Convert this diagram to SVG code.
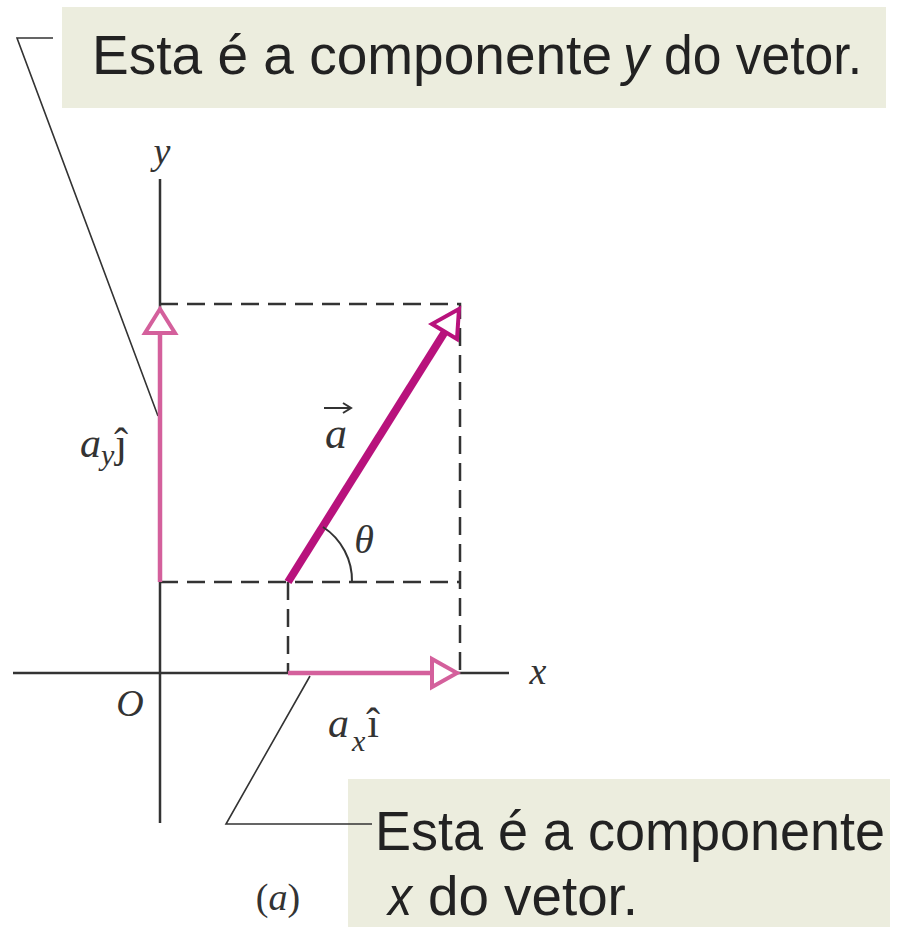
<svg xmlns="http://www.w3.org/2000/svg" width="905" height="927" viewBox="0 0 905 927">
<style>
.box{fill:#ecedde;}
.cap{font-family:"Liberation Sans",Arial,sans-serif;font-size:56px;fill:#222;}
.it{font-style:italic;}
.lbl{font-family:"Liberation Serif","Times New Roman",serif;fill:#333;}
.axis{stroke:#333;stroke-width:2.5;fill:none;}
.dash{stroke:#333;stroke-width:2.5;fill:none;stroke-dasharray:18 9;}
.lead{stroke:#333;stroke-width:1.6;fill:none;}
.comp{stroke:#d4609c;stroke-width:4.5;fill:none;}
.head{stroke:#d4609c;stroke-width:4;fill:#fff;stroke-linejoin:miter;}
.vec{stroke:#b8127c;stroke-width:8;fill:none;}
.vhead{stroke:#b8127c;stroke-width:4;fill:#fff;}
</style>
<rect width="905" height="927" fill="#fff"/>
<g id="note-y">
<rect class="box" x="62" y="7" width="824" height="101"/>
<text class="cap" x="92" y="74" textLength="520" lengthAdjust="spacingAndGlyphs">Esta é a componente</text>
<text class="cap it" x="623" y="74" textLength="26" lengthAdjust="spacingAndGlyphs">y</text>
<text class="cap" x="664" y="74" textLength="198" lengthAdjust="spacingAndGlyphs">do vetor.</text>
</g>
<g id="note-x">
<rect class="box" x="348" y="779" width="542" height="148"/>
<text class="cap" x="375" y="850" textLength="510" lengthAdjust="spacingAndGlyphs">Esta é a componente</text>
<text class="cap it" x="388" y="915" textLength="24" lengthAdjust="spacingAndGlyphs">x</text>
<text class="cap" x="428" y="915" textLength="210" lengthAdjust="spacingAndGlyphs">do vetor.</text>
</g>
<g id="axes">
<line class="axis" x1="13" y1="673" x2="509" y2="673"/>
<line class="axis" x1="160" y1="179" x2="160" y2="823"/>
<text class="lbl it" x="162" y="164" font-size="38" text-anchor="middle">y</text>
<text class="lbl it" x="538" y="684" font-size="38" text-anchor="middle">x</text>
<text class="lbl it" x="130" y="716" font-size="38" text-anchor="middle">O</text>
</g>
<g id="guides">
<path class="dash" d="M160 304 H460 V673"/>
<path class="dash" d="M160 582 H460"/>
<path class="dash" d="M288 582 V673"/>
</g>
<g id="connectors">
<path class="lead" d="M53 38 H17 L158 416"/>
<path class="lead" d="M310 676 L226 824 H372"/>
</g>
<g id="component-y">
<line class="comp" x1="160" y1="582" x2="160" y2="333"/>
<polygon class="head" points="160,309 145,333 175,333"/>
<text class="lbl" x="80" y="457" font-size="42"><tspan class="it">a</tspan><tspan class="it" font-size="30" dy="8">y</tspan><tspan dy="-8" dx="1">ĵ</tspan></text>
</g>
<g id="component-x">
<line class="comp" x1="288" y1="673" x2="432" y2="673"/>
<polygon class="head" points="457,673 432,659 432,687"/>
<text class="lbl" x="328" y="737" font-size="42"><tspan class="it">a</tspan><tspan class="it" font-size="30" dy="14" dx="3">x</tspan><tspan dy="-14" dx="2">î</tspan></text>
</g>
<g id="vector-a">
<line class="vec" x1="288" y1="582" x2="446" y2="330"/>
<polygon class="vhead" points="459,309 432,324 457,339"/>
<path d="M323 527 A64 64 0 0 1 352 582" stroke="#333" stroke-width="2" fill="none"/>
<text class="lbl it" x="364" y="553" font-size="40" text-anchor="middle">θ</text>
<text class="lbl it" x="336" y="448" font-size="44" text-anchor="middle">a</text>
<path d="M324 408 H350 M343 403 L351 408 L343 413" stroke="#333" stroke-width="2" fill="none"/>
</g>
<g id="caption">
<text class="lbl" x="278" y="910" font-size="38" text-anchor="middle">(<tspan class="it">a</tspan>)</text>
</g>
</svg>
